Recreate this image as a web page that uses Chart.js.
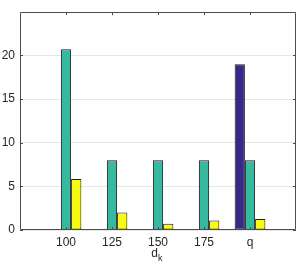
<!DOCTYPE html>
<html>
<head>
<meta charset="utf-8">
<script src="https://cdn.jsdelivr.net/npm/chart.js@4"></script>
<style>
  html, body { margin: 0; padding: 0; background: #fff; }
  #wrap { width: 301px; height: 266px; }
</style>
</head>
<body>
<div id="wrap"><canvas id="chart"></canvas></div>
<script>
const categories = ['100', '125', '150', '175', 'q'];
const serieAzul = [0, 0, 0, 0, 19.0];
const serieVerde = [20.7, 8, 8, 8, 8];
const serieAmarilla = [5.85, 2.0, 0.72, 1.08, 1.27];
const yTicks = [0, 5, 10, 15, 20];

// pad the category axis with empty slots so the axis runs from 0 to 6
const labels = [''].concat(categories, ['']);
const pad = arr => [null].concat(arr, [null]);

const axisColor = '#4d4d4d';
const textColor = '#262626';
const font = { family: 'Liberation Sans, Arial, sans-serif', size: 12 };

const boxPlugin = {
    id: 'boxPlugin',
    afterDatasetsDraw(chart) {
        const { ctx, chartArea: a, scales } = chart;
        const x = scales.x, y = scales.y;
        const len = 3;
        ctx.save();
        ctx.strokeStyle = axisColor;
        ctx.lineWidth = 1;
        ctx.beginPath();
        ctx.rect(Math.round(a.left) + 0.5, Math.round(a.top) + 0.5,
                 Math.round(a.right - a.left) - 1, Math.round(a.bottom - a.top) - 1);
        ctx.stroke();
        ctx.beginPath();
        for (let i = 1; i <= categories.length; i++) {
            const px = Math.round(x.getPixelForValue(i)) + 0.5;
            ctx.moveTo(px, a.top); ctx.lineTo(px, a.top + len);
            ctx.moveTo(px, a.bottom); ctx.lineTo(px, a.bottom - len);
        }
        yTicks.forEach(v => {
            const py = Math.round(y.getPixelForValue(v)) + 0.5;
            ctx.moveTo(a.left, py); ctx.lineTo(a.left + len, py);
            ctx.moveTo(a.right, py); ctx.lineTo(a.right - len, py);
        });
        ctx.stroke();

        // x title d_k
        ctx.fillStyle = textColor;
        ctx.textBaseline = 'alphabetic';
        ctx.textAlign = 'left';
        const cx = (a.left + a.right) / 2;
        ctx.font = '12px Liberation Sans, Arial, sans-serif';
        const dw = ctx.measureText('d').width;
        ctx.fillText('d', cx - dw, 257);
        ctx.font = '9px Liberation Sans, Arial, sans-serif';
        ctx.fillText('k', cx, 261);
        ctx.restore();
    }
};

const barStyle = { borderColor: '#1a1a1a', borderWidth: 1, borderSkipped: false };

new Chart(document.getElementById('chart'), {
    type: 'bar',
    data: {
        labels: labels,
        datasets: [
            { data: pad(serieAzul), backgroundColor: '#352a87', ...barStyle },
            { data: pad(serieVerde), backgroundColor: '#36b99e', ...barStyle },
            { data: pad(serieAmarilla), backgroundColor: '#f9fb0e', ...barStyle }
        ]
    },
    options: {
        responsive: true,
        maintainAspectRatio: false,
        animation: false,
        events: [],
        categoryPercentage: 0.667,
        barPercentage: 1,
        layout: { padding: { left: 0, right: 2, top: 2, bottom: 0 } },
        scales: {
            x: {
                offset: false,
                grid: { display: false, drawTicks: false },
                border: { display: false },
                ticks: { color: textColor, font: font, padding: 5, maxRotation: 0, autoSkip: false },
                afterFit(scale) { scale.height = 36; }
            },
            y: {
                min: 0,
                max: 24.95,
                afterBuildTicks(scale) { scale.ticks = yTicks.map(v => ({ value: v })); },
                grid: { color: '#e6e6e6', drawTicks: false },
                border: { display: false },
                ticks: { color: textColor, font: font, padding: 5 },
                afterFit(scale) { scale.width = 20; }
            }
        },
        plugins: {
            legend: { display: false },
            tooltip: { enabled: false }
        }
    },
    plugins: [boxPlugin]
});
</script>
</body>
</html>
